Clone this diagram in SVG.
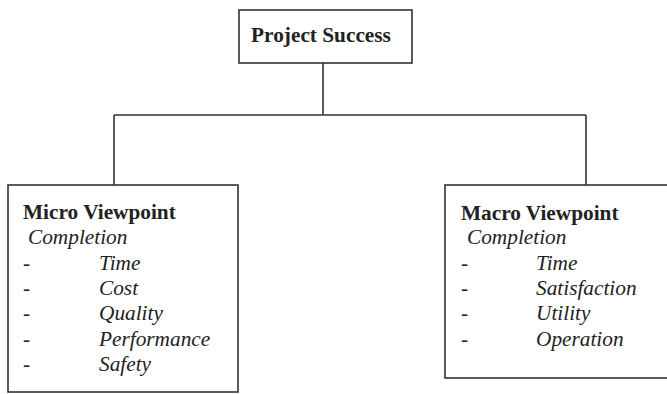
<svg xmlns="http://www.w3.org/2000/svg" width="667" height="394" viewBox="0 0 667 394">
<style>
.box{fill:#fff;stroke:#333;stroke-width:1.6}
.conn{fill:none;stroke:#333;stroke-width:1.6}
text{font-family:"Liberation Serif","Times New Roman",serif;font-size:21.3px;fill:#222}
.b{font-weight:bold}
.i{font-style:italic}
</style>
<rect width="667" height="394" fill="#fff"/>
<g id="connectors">
<path class="conn" d="M323 63V115M114 115H586M114 115V185M586 115V185"/>
</g>
<g id="project-success">
<rect class="box" x="239" y="10" width="173" height="53"/>
<text class="b" x="321" y="42" text-anchor="middle">Project Success</text>
</g>
<g id="micro-viewpoint">
<rect class="box" x="8" y="185" width="230" height="207"/>
<text class="b" x="23" y="219">Micro Viewpoint</text>
<text class="i" x="28" y="244">Completion</text>
<text x="23" y="270">-</text><text class="i" x="99" y="270">Time</text>
<text x="23" y="295">-</text><text class="i" x="99" y="295">Cost</text>
<text x="23" y="320">-</text><text class="i" x="99" y="320">Quality</text>
<text x="23" y="346">-</text><text class="i" x="99" y="346">Performance</text>
<text x="23" y="371">-</text><text class="i" x="99" y="371">Safety</text>
</g>
<g id="macro-viewpoint">
<rect class="box" x="445" y="185" width="240" height="193"/>
<text class="b" x="461" y="220">Macro Viewpoint</text>
<text class="i" x="467" y="244">Completion</text>
<text x="461" y="270">-</text><text class="i" x="536" y="270">Time</text>
<text x="461" y="295">-</text><text class="i" x="536" y="295">Satisfaction</text>
<text x="461" y="320">-</text><text class="i" x="536" y="320">Utility</text>
<text x="461" y="346">-</text><text class="i" x="536" y="346">Operation</text>
</g>
</svg>
